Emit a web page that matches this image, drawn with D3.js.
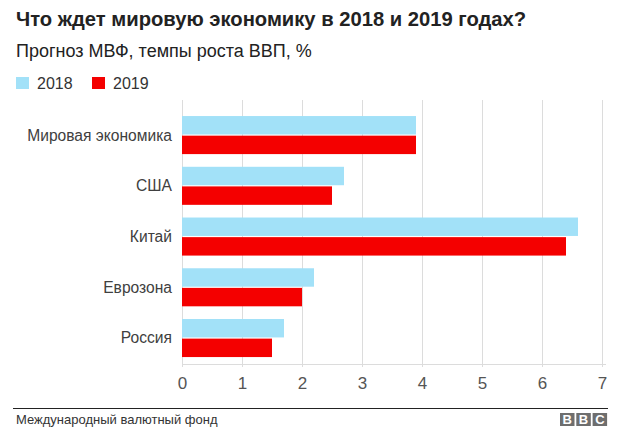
<!DOCTYPE html>
<html><head><meta charset="utf-8">
<script src="https://cdn.jsdelivr.net/npm/d3@7"></script>
<style>
html,body{margin:0;padding:0;background:#fff;}
text{font-family:"Liberation Sans",Arial,Helvetica,sans-serif;}
</style></head>
<body>
<svg id="c" width="618" height="436"></svg>
<script>
const categories = ["Мировая экономика","США","Китай","Еврозона","Россия"];
const years = ["2018","2019"];
const values2018 = [3.9, 2.7, 6.6, 2.2, 1.7];
const values2019 = [3.9, 2.5, 6.4, 2.0, 1.5];
const xTicks = [0,1,2,3,4,5,6,7];
const colors = ["#a2e1f8","#f40000"];
const title = "Что ждет мировую экономику в 2018 и 2019 годах?";
const subtitle = "Прогноз МВФ, темпы роста ВВП, %";
const source = "Международный валютный фонд";

const svg = d3.select("#c");
const plotL = 182, plotR = 602, plotT = 100, plotB = 364;

const x = d3.scaleLinear().domain([0,7]).range([plotL, plotR]);
const y = d3.scaleBand().domain(categories).range([109.7, 363.4]).paddingInner(0.25).paddingOuter(0.125);
const ySub = d3.scaleBand().domain(years).range([0, y.bandwidth()]).paddingInner(0.06);

svg.append("text").attr("x",16).attr("y",26).attr("font-size",20.2).attr("font-weight","bold").attr("fill","#222").text(title);
svg.append("text").attr("x",16).attr("y",56.5).attr("font-size",18).attr("fill","#222").text(subtitle);

// legend
const leg = svg.append("g");
const legX = [16, 92];
years.forEach((yr,i)=>{
  leg.append("rect").attr("x",legX[i]).attr("y",77).attr("width",13).attr("height",12).attr("fill",colors[i]);
  leg.append("text").attr("x",legX[i]+21).attr("y",89.3).attr("font-size",16).attr("fill","#333").text(yr);
});

// gridlines
svg.append("g").selectAll("line").data(xTicks).join("line")
  .attr("x1",d=>x(d)).attr("x2",d=>x(d)).attr("y1",plotT).attr("y2",plotB+3)
  .attr("stroke","#dcdcdc").attr("stroke-width",1).attr("shape-rendering","crispEdges");
svg.append("line").attr("x1",plotL).attr("x2",plotR+4).attr("y1",plotB).attr("y2",plotB)
  .attr("stroke","#dcdcdc").attr("shape-rendering","crispEdges");

// x axis labels
const xAxis = d3.axisBottom(x).tickValues(xTicks).tickSize(0).tickPadding(0).tickFormat(d3.format("d"));
const gx = svg.append("g").attr("transform",`translate(0,${plotB})`).call(xAxis);
gx.select(".domain").remove();
gx.selectAll("text").attr("font-size",17).attr("fill","#555").attr("dy",null).attr("y",25);

// y labels
const yAxis = d3.axisLeft(y).tickSize(0).tickPadding(10);
const gy = svg.append("g").attr("transform",`translate(${plotL},0)`).call(yAxis);
gy.select(".domain").remove();
gy.selectAll("text").attr("font-size",15.6).attr("fill","#404040").attr("dy","0.35em");

// bars
const data = categories.map((c,i)=>({c, vals:[values2018[i], values2019[i]]}));
const grp = svg.append("g").selectAll("g").data(data).join("g")
  .attr("transform",d=>`translate(0,${y(d.c)})`);
grp.selectAll("rect").data(d=>d.vals.map((v,j)=>({v, yr:years[j], j}))).join("rect")
  .attr("x",x(0)).attr("y",d=>ySub(d.yr)).attr("height",ySub.bandwidth())
  .attr("width",d=>x(d.v)-x(0)).attr("fill",d=>colors[d.j]);

// footer
svg.append("line").attr("x1",13).attr("x2",608).attr("y1",408).attr("y2",408)
  .attr("stroke","#222").attr("stroke-width",1).attr("shape-rendering","crispEdges");
svg.append("text").attr("x",16).attr("y",424).attr("font-size",13).attr("fill","#333").text(source);

// BBC logo
const logo = svg.append("g");
["B","B","C"].forEach((ch,i)=>{
  const bx = 560 + i*16.3;
  logo.append("rect").attr("x",bx).attr("y",413).attr("width",14.5).attr("height",13).attr("fill","#6e6e6e");
  logo.append("text").attr("x",bx+7.25).attr("y",424.2).attr("text-anchor","middle")
    .attr("font-size",13).attr("font-weight","bold").attr("fill","#fff").text(ch);
});
</script>
</body></html>
